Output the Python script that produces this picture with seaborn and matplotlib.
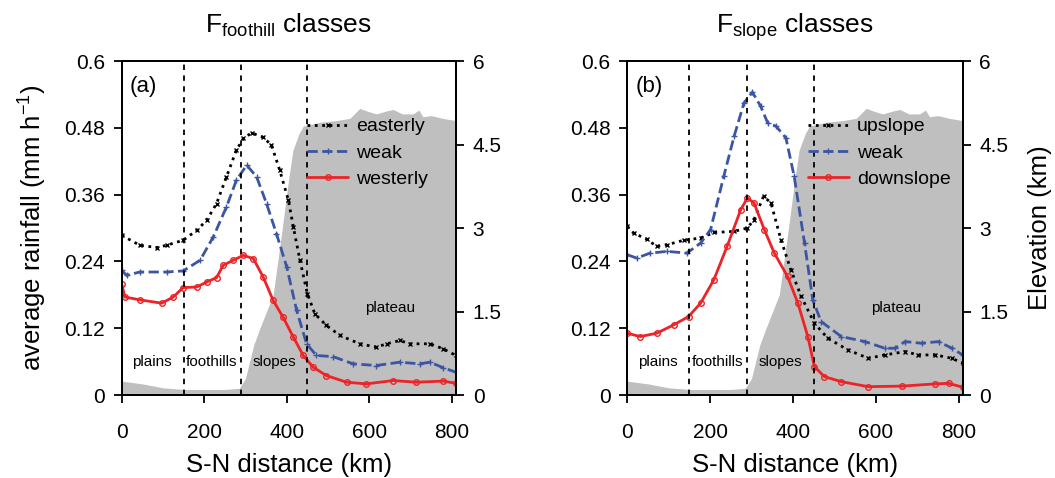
import numpy as np
import pandas as pd
import seaborn as sns
import matplotlib.pyplot as plt

# terrain profile (km, elevation km)
terrain_km = [0, 50, 100, 150, 200, 250, 285, 300, 320, 335, 367, 380, 391, 405, 415, 430, 440,
              480, 520, 553, 577, 595, 617, 640, 658, 680, 706, 720, 730, 750, 778, 810]
terrain_elev = [0.25, 0.2, 0.13, 0.1, 0.1, 0.1, 0.12, 0.3, 0.9, 1.2, 1.8, 2.5, 3.1, 3.9, 4.4, 4.7, 4.83,
                4.9, 4.93, 4.97, 5.15, 5.1, 5.05, 5.1, 5.13, 5.05, 5.05, 5.12, 5.0, 5.02, 4.97, 4.93]

# panel (a): F_foothill classes
a_east_km = [0, 44, 85, 109, 149, 182, 206, 230, 254, 278, 295, 315, 343, 363, 383, 404, 416, 432,
             450, 468, 496, 529, 577, 617, 642, 674, 698, 747, 779, 810]
a_east = [0.287, 0.269, 0.265, 0.269, 0.278, 0.296, 0.314, 0.344, 0.392, 0.44, 0.461, 0.471, 0.463,
          0.449, 0.404, 0.35, 0.302, 0.242, 0.182, 0.146, 0.125, 0.107, 0.092, 0.086, 0.092, 0.098,
          0.092, 0.092, 0.083, 0.071]
a_weak_km = [0, 12, 44, 109, 149, 190, 222, 254, 278, 303, 327, 351, 375, 400, 424, 448, 472, 512,
             561, 617, 674, 722, 747, 779, 810]
a_weak = [0.224, 0.215, 0.221, 0.221, 0.223, 0.242, 0.284, 0.338, 0.386, 0.413, 0.392, 0.344, 0.29,
          0.23, 0.152, 0.092, 0.071, 0.069, 0.056, 0.053, 0.059, 0.056, 0.059, 0.049, 0.041]
a_west_km = [0, 8, 44, 97, 125, 149, 182, 206, 230, 246, 270, 295, 319, 343, 367, 391, 416, 440,
             464, 496, 545, 593, 658, 714, 779, 810]
a_west = [0.2, 0.176, 0.171, 0.165, 0.176, 0.193, 0.194, 0.203, 0.211, 0.233, 0.242, 0.251, 0.245,
          0.212, 0.17, 0.14, 0.104, 0.071, 0.05, 0.035, 0.023, 0.02, 0.026, 0.023, 0.025, 0.021]

# panel (b): F_slope classes
b_up_km = [0, 15, 47, 71, 96, 136, 177, 209, 258, 290, 306, 329, 347, 371, 395, 420, 452, 484,
           533, 582, 622, 671, 703, 744, 784, 810]
b_up = [0.303, 0.291, 0.28, 0.267, 0.27, 0.278, 0.282, 0.292, 0.294, 0.3, 0.315, 0.357, 0.345,
        0.279, 0.225, 0.177, 0.129, 0.102, 0.081, 0.066, 0.072, 0.078, 0.072, 0.072, 0.066, 0.057]
b_weak_km = [0, 23, 55, 96, 144, 177, 201, 233, 258, 282, 302, 322, 339, 359, 383, 403, 428, 448,
             468, 517, 574, 622, 646, 671, 711, 752, 784, 810]
b_weak = [0.252, 0.246, 0.255, 0.258, 0.255, 0.273, 0.297, 0.393, 0.465, 0.525, 0.544, 0.519, 0.489,
          0.483, 0.462, 0.393, 0.273, 0.171, 0.132, 0.105, 0.096, 0.084, 0.084, 0.096, 0.093, 0.096,
          0.084, 0.072]
b_down_km = [0, 31, 71, 112, 148, 177, 209, 241, 274, 290, 306, 331, 355, 387, 412, 436, 452, 476,
             517, 582, 663, 744, 776, 810]
b_down = [0.111, 0.105, 0.111, 0.126, 0.141, 0.165, 0.207, 0.267, 0.333, 0.354, 0.345, 0.297, 0.255,
          0.213, 0.165, 0.105, 0.051, 0.033, 0.024, 0.015, 0.016, 0.02, 0.021, 0.014]

region_bounds = [150, 290, 450]
region_names = ['plains', 'foothills', 'slopes', 'plateau']
region_x = [73, 218, 370, 650]
region_y = [0.06, 0.06, 0.06, 0.157]

sns.set_style('ticks')
plt.rcParams['font.family'] = ['Liberation Sans', 'DejaVu Sans']
plt.rcParams['mathtext.fontset'] = 'custom'
plt.rcParams['mathtext.rm'] = 'Liberation Sans'
plt.rcParams['mathtext.it'] = 'Liberation Sans'
for key in ['text.color', 'axes.labelcolor', 'xtick.color', 'ytick.color', 'axes.edgecolor']:
    plt.rcParams[key] = 'black'

BLACK = '#000000'
BLUE = '#3b55a3'
RED = '#ec2327'


def draw_panel(ax, series, title, tag, leg_x, left_label, right_label):
    ax2 = ax.twinx()
    ax2.fill_between(terrain_km, terrain_elev, color='#bfbfbf', lw=0)
    ax2.set_ylim(0, 6)
    ax2.set_yticks([0, 1.5, 3, 4.5, 6])
    ax2.set_yticklabels(['0', '1.5', '3', '4.5', '6'])
    ax.set_zorder(ax2.get_zorder() + 1)
    ax.patch.set_visible(False)

    for km, vals, lab, col, ls, mk, ms in series:
        sns.lineplot(x=km, y=vals, ax=ax, color=col, linestyle=ls, marker=mk, markersize=ms,
                     markerfacecolor='none' if mk == 'o' else col, markeredgecolor=col,
                     markeredgewidth=1.0, lw=2.0, label=lab)

    for b in region_bounds:
        ax.axvline(b, color='black', ls=(0, (3, 3)), lw=1.3)
    for name, xx, yy in zip(region_names, region_x, region_y):
        ax.text(xx, yy, name, ha='center', va='center', fontsize=11)
    ax.text(0.025, 0.925, tag, transform=ax.transAxes, ha='left', va='center', fontsize=16)

    ax.set_xlim(0, 810)
    ax.set_ylim(0, 0.6)
    ax.set_xticks([0, 200, 400, 600, 800])
    ax.set_yticks([0, 0.12, 0.24, 0.36, 0.48, 0.6])
    ax.set_yticklabels(['0', '0.12', '0.24', '0.36', '0.48', '0.6'])
    ax.set_xlabel('S-N distance (km)', fontsize=18.5, labelpad=8)
    ax.set_title(title, fontsize=19, pad=20)
    if left_label:
        ax.set_ylabel('average rainfall (mm h$^{-1}$)', fontsize=18.5, labelpad=11)
    else:
        ax.set_ylabel('')
    if right_label:
        ax2.set_ylabel('Elevation (km)', fontsize=18.5, labelpad=14)
    for a in (ax, ax2):
        a.tick_params(labelsize=15, length=6, width=1.3, direction='out', pad=6)
        for s in a.spines.values():
            s.set_linewidth(1.4)
            s.set_visible(True)
    ax.tick_params(axis='x', pad=14)

    ax.legend(loc='upper left', bbox_to_anchor=(leg_x, 0.83), frameon=False, fontsize=14,
              handlelength=2.1, handletextpad=0.4, labelspacing=0.45, borderpad=0,
              borderaxespad=0)


fig = plt.figure(figsize=(10.55, 4.78), dpi=100)
ax_a = fig.add_axes([0.1153, 0.1736, 0.3169, 0.6987])
ax_b = fig.add_axes([0.5946, 0.1736, 0.3179, 0.6987])

draw_panel(ax_a, [
    (a_east_km, a_east, 'easterly', BLACK, ':', 'x', 3.5),
    (a_weak_km, a_weak, 'weak', BLUE, '--', '+', 5),
    (a_west_km, a_west, 'westerly', RED, '-', 'o', 4),
], r'F$_{\mathregular{foothill}}$ classes', '(a)', 0.555, True, False)

draw_panel(ax_b, [
    (b_up_km, b_up, 'upslope', BLACK, ':', 'x', 3.5),
    (b_weak_km, b_weak, 'weak', BLUE, '--', '+', 5),
    (b_down_km, b_down, 'downslope', RED, '-', 'o', 4),
], r'F$_{\mathregular{slope}}$ classes', '(b)', 0.539, False, True)

fig.savefig('out.png', dpi=100)
